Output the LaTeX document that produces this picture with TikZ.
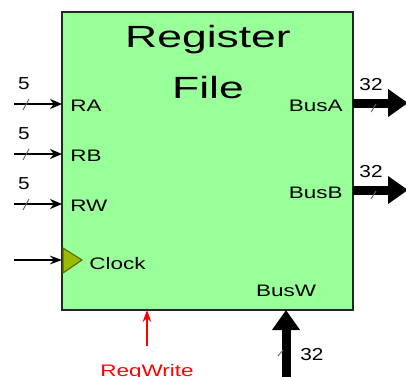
\documentclass[tikz,border=0pt]{standalone}
\usepackage{fontspec}
\setmainfont{Liberation Sans}
\usetikzlibrary{arrows.meta}

\definecolor{regfill}{RGB}{153,255,153}
\definecolor{clockfill}{RGB}{153,187,0}
\definecolor{clockedge}{RGB}{85,105,0}

\begin{document}
\begin{tikzpicture}[x=0.75pt, y=-0.75pt, >=Stealth,
    titletext/.style={font=\fontsize{23}{28}\selectfont, xscale=1.45, inner sep=0pt, anchor=base},
    pinlabel/.style={font=\fontsize{12.5}{15}\selectfont, xscale=1.35, inner sep=0pt},
    buswidth/.style={font=\fontsize{13}{15}\selectfont, xscale=1.2, inner sep=0pt, anchor=base},
    inarrow/.style={-{Stealth[length=9pt, width=7.5pt]}, line width=2.2pt},
    thinarrow/.style={-{Stealth[length=9pt, width=6.5pt]}, line width=1pt},
    widearrow/.style={-{Triangle[length=15pt, width=20pt]}, line width=6.75pt},
    slashmark/.style={line width=0.7pt, black!60}]
    \useasboundingbox (0,0) rectangle (406,376);

    % Register file block
    \node [draw=black!85, line width=1.2pt, fill=regfill, inner sep=0pt, outer sep=0pt,
           minimum width=218.25pt, minimum height=223.5pt, anchor=north west] (rf) at (62,12) {};
    \node [titletext] (title1) at (208,47) {Register};
    \node [titletext] (title2) at (208,98) {File};

    % Register numbers
    \foreach \name/\txt/\y in {ra/RA/104, rb/RB/154, rw/RW/204} {
        \coordinate (\name-in) at (14,\y);
        \node [pinlabel, anchor=base west] (\name) at (70,\y+7) {\txt};
        \draw [inarrow] (\name-in) -- (\name-in -| rf.west);
        \draw [slashmark] (\name-in) ++(9,6) -- ++(6,-11);
        \node [buswidth] (\name-w) at (24,\y-15) {5};
    }

    % Clock
    \coordinate (clk-in) at (14,260);
    \draw [thinarrow] (clk-in) -- (clk-in -| rf.west);
    \draw [fill=clockfill, draw=clockedge, line width=0.8pt]
        (63,248) -- (82,260) -- (63,273) -- cycle;
    \node [pinlabel, anchor=base west] (clock) at (89,269) {Clock};

    % Output buses
    \foreach \name/\txt/\y in {busA/BusA/103, busB/BusB/190} {
        \coordinate (\name-out) at (408,\y);
        \node [pinlabel, anchor=base east] (\name) at (343,\y+8) {\txt};
        \draw [widearrow] (\name-out -| rf.east) -- (\name-out);
        \draw [slashmark] (\name-out) ++(-37,9) -- ++(5,-8);
        \node [buswidth] (\name-w) at (371,\y-13) {32};
    }

    % Write bus
    \coordinate (busW-in) at (286,378);
    \node [pinlabel, anchor=base] (busW) at (286,296) {BusW};
    \draw [widearrow] (busW-in) -- (busW-in |- rf.south);
    \draw [slashmark] (busW-in) ++(-8,-22) -- ++(5,-6);
    \node [buswidth, anchor=base west] (busW-w) at (300,360) {32};

    % Write enable
    \coordinate (wr-in) at (147,346);
    \draw [thinarrow, red] (wr-in) -- (wr-in |- rf.south);
    \node [pinlabel, anchor=base, red] (regwrite) at (147,376) {RegWrite};
\end{tikzpicture}
\end{document}
